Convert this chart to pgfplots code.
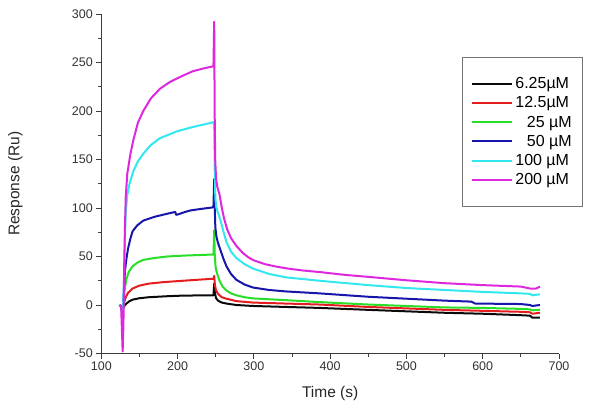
\documentclass[border=0pt]{standalone}
\usepackage{pgfplots}
\pgfplotsset{compat=1.18}
\usepackage{fontspec}
\setmainfont{Liberation Sans}
\definecolor{cBlack}{RGB}{10,10,10}
\definecolor{cRed}{RGB}{228,30,30}
\definecolor{cGreen}{RGB}{40,222,40}
\definecolor{cBlue}{RGB}{22,22,170}
\definecolor{cCyan}{RGB}{50,232,240}
\definecolor{cMag}{RGB}{222,40,222}
\definecolor{axgray}{RGB}{60,60,60}
\begin{document}
\begin{tikzpicture}
\path[use as bounding box] (-101.3pt,-54.5pt) rectangle (502.7pt,353.5pt);
\begin{axis}[
  scale only axis, width=457.7pt, height=339.5pt,
  xmin=100, xmax=700, ymin=-50, ymax=300,
  axis x line*=bottom, axis y line*=left,
  axis line style={-, axgray, line width=0.9pt},
  every tick/.style={axgray, line width=0.8pt},
  tick align=outside, major tick length=5pt, minor tick length=3pt,
  minor tick num=1,
  xtick={100,200,...,700}, ytick={-50,0,...,300},
  /pgf/number format/assume math mode=true,
  ticklabel style={font=\fontsize{12.5}{14}\selectfont, text=black!80},
  xlabel={Time (s)}, ylabel={Response (Ru)},
  label style={font=\fontsize{15.5}{18}\selectfont, text=black!85},
  xlabel style={at={(axis description cs:0.5,-0.118)}, anchor=center},
  ylabel style={at={(axis description cs:-0.188,0.5)}, anchor=center, rotate=0},
  legend style={at={(axis description cs:0.788,0.873)}, anchor=north west,
    draw=black!55, line width=0.8pt, font=\fontsize{16}{18}\selectfont,
    inner xsep=9pt, inner ysep=18pt, row sep=2.5pt},
  legend cell align=left,
  legend image post style={line width=2pt},
  legend image code/.code={\draw[#1] (0pt,0pt) -- (40pt,0pt);},
  every axis plot/.append style={line width=2pt, line join=round},
]
\addplot[cBlack] coordinates {(124,0)(126,-1)(128,-4)(130,-1)(133,1.5)(137,4)(141,5.5)(150,7)(162,8)(185,9)(207,9.7)(245,10)(247,10)(248,22)(249,12)(250.5,7)(253,4.5)(258,2.5)(264,1.5)(277,0)(299,-1)(342,-2)(386,-3)(450,-5)(500,-6.5)(550,-8)(600,-9)(650,-10.5)(662,-11)(665,-13)(675,-13)};
\addlegendentry{6.25µM}
\addplot[cRed] coordinates {(124,0)(126,-1)(128,-5)(130,3)(132,8)(135,12.5)(141,17)(150,20)(162,22)(180,23.5)(207,25)(245,27)(247,27)(248,30)(249,20)(250.5,15)(253,11.5)(258,8)(264,6.5)(277,4)(299,2.5)(342,1.5)(386,0.5)(450,-2)(500,-3.5)(550,-5)(600,-6)(650,-7)(662,-7.5)(665,-9)(675,-8)};
\addlegendentry{12.5µM}
\addplot[cGreen] coordinates {(124,0)(126,-1)(128,-8)(130,10)(131,18)(133,27)(136,34)(141,40)(148,44)(155,46.5)(170,48.5)(186,50)(210,51)(245,52)(247,52)(248,77)(248.8,50)(250,38)(252,32)(255,25)(259,19)(264,15)(270,12)(277,10)(288,8)(299,6.8)(342,5)(386,3)(450,0.5)(500,-1)(550,-2.5)(600,-3)(650,-4)(662,-4.5)(665,-5.5)(675,-5)};
\addlegendentry{\hphantom{1}\,25 µM}
\addplot[cBlue] coordinates {(124,0)(126,-2)(128,-10)(130,20)(131,35)(133,48)(135,58)(138,68)(141,76)(147,82)(155,87)(170,91)(186,94)(197,96)(198,93)(201,93.5)(210,96)(217,97.5)(230,99)(245,100.5)(247,101)(248,130)(248.7,100)(249.5,80)(251,70)(253,64)(256,57)(260,48)(264,40)(270,32)(277,26)(288,21)(299,18)(320,15.5)(342,14)(386,12)(450,8.5)(500,6.5)(550,4.5)(585,3.5)(590,1.5)(650,1)(662,0)(665,-1)(675,0)};
\addlegendentry{\hphantom{1}\,50 µM}
\addplot[cCyan] coordinates {(124,0)(126,-3)(128,-12)(130,30)(131,70)(132,95)(134,113)(137,125)(142,138)(148,148)(155,156)(165,165)(177,172)(199,179)(220,183.5)(242,187.5)(247,188.5)(248,185)(248.7,140)(249.5,110)(251,100)(253,95)(256,88)(260,76)(264,65)(270,55)(277,48.5)(288,42)(299,37.5)(320,32)(342,28.5)(386,25)(450,20.5)(500,17.5)(550,15.5)(600,13.5)(650,12)(662,11.5)(665,10)(675,11)};
\addlegendentry{100 µM}
\addplot[cMag] coordinates {(124,0)(126,-2)(128,-48)(129,-20)(130,40)(131,80)(132,110)(134,135)(138,155)(142,170)(148,188)(155,200)(165,213)(177,223)(190,230)(199,233.5)(210,237.5)(220,241)(232,243.5)(242,245.3)(247,246)(248,292)(248.6,200)(249.3,150)(250.5,130)(252,122)(255,114)(258,100)(261,89)(265,78)(270,69)(277,61)(285,54)(293,49)(300,46)(315,42)(330,39.5)(345,37.5)(365,35.5)(386,34)(420,31)(450,29)(500,25.5)(550,22.5)(600,20.5)(650,19)(662,17)(670,17)(675,19)};
\addlegendentry{200 µM}
\end{axis}
\end{tikzpicture}
\end{document}
